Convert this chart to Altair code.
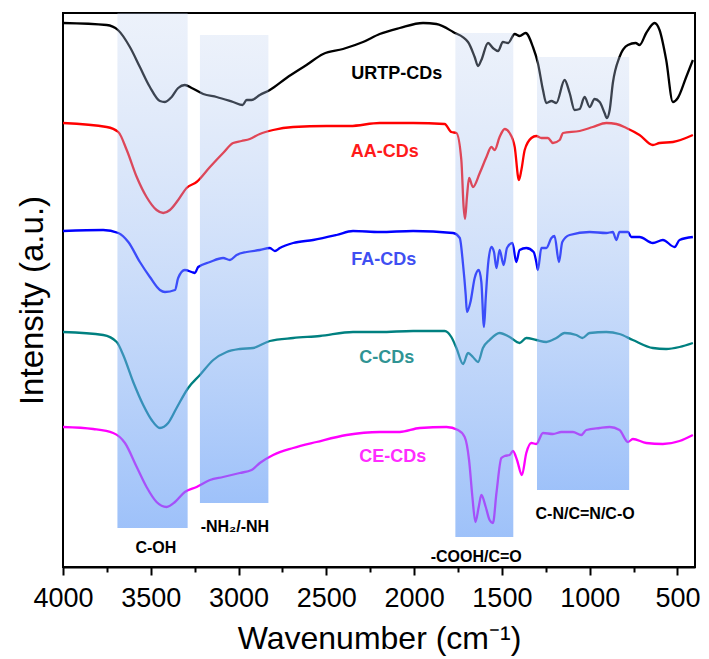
import altair as alt
import pandas as pd

FONT = "Liberation Sans"

# ---------------- data (wavenumber in cm-1, intensity in arbitrary units) ----------------
SERIES = ["URTP-CDs", "AA-CDs", "FA-CDs", "C-CDs", "CE-CDs"]
LINE_COLORS = ["#000000", "#ff0000", "#0000ff", "#008080", "#ff00ff"]
LABEL_COLORS = ["#000000", "#ff1a1a", "#3f4ff2", "#2f9494", "#ff2cff"]

urtp_wn = [4000, 3751, 3687, 3619, 3562, 3505, 3448, 3419, 3381, 3344, 3306, 3267, 3201, 3125, 3031,
           2977, 2954, 2926, 2879, 2822, 2727, 2613, 2518, 2405, 2291, 2196, 2082, 1949, 1873, 1778,
           1693, 1655, 1636, 1617, 1579, 1551, 1522, 1494, 1465, 1427, 1399, 1365, 1323, 1295, 1266,
           1247, 1218, 1190, 1143, 1114, 1086, 1057, 1029, 1000, 972, 943, 915, 902, 886, 868, 830,
           782, 738, 716, 678, 630, 602, 564, 526, 498, 450, 412]
urtp_v = [544, 542, 537, 520, 500, 480, 466, 465, 470, 479, 482, 479, 473, 470, 465, 462, 467, 467,
          472, 477, 489, 502, 513, 518, 525, 533, 539, 544, 543, 535, 525, 510, 501, 507, 524, 519,
          516, 525, 524, 533, 531, 534, 520, 504, 477, 464, 466, 464, 487, 474, 457, 458, 470, 460,
          468, 465, 454, 449, 457, 484, 510, 522, 524, 522, 534, 544, 537, 507, 465, 469, 490, 507]

aa_wn = [4000, 3751, 3685, 3637, 3580, 3524, 3467, 3429, 3391, 3344, 3296, 3239, 3163, 3088, 3031,
         2983, 2936, 2879, 2803, 2689, 2499, 2366, 2196, 2006, 1826, 1788, 1759, 1731, 1718, 1710,
         1699, 1687, 1665, 1626, 1588, 1560, 1541, 1513, 1484, 1456, 1427, 1403, 1389, 1370, 1332,
         1304, 1275, 1238, 1209, 1171, 1152, 1057, 982, 905, 848, 791, 716, 640, 602, 526, 412]
aa_v = [444, 440, 435, 417, 390, 370, 357, 354, 357, 367, 379, 385, 400, 414, 424, 426, 428, 433,
        437, 440, 441, 441, 444, 444, 443, 435, 434, 407, 360, 348, 370, 389, 380, 394, 410, 420,
        417, 430, 438, 434, 420, 387, 397, 417, 429, 431, 429, 429, 424, 427, 434, 436, 440, 444,
        443, 439, 432, 422, 424, 425, 432]

fa_wn = [4000, 3771, 3685, 3628, 3562, 3505, 3448, 3419, 3362, 3344, 3306, 3267, 3249, 3230, 3163,
         3088, 3049, 3011, 2954, 2879, 2822, 2793, 2765, 2689, 2575, 2442, 2348, 2196, 2006, 1778,
         1740, 1721, 1706, 1699, 1679, 1655, 1632, 1617, 1602, 1592, 1579, 1560, 1545, 1531, 1513,
         1490, 1471, 1440, 1418, 1399, 1361, 1319, 1304, 1295, 1275, 1247, 1218, 1200, 1175, 1156,
         1114, 1000, 905, 868, 848, 830, 782, 763, 716, 640, 583, 516, 488, 412]
fa_v = [336, 337, 334, 325, 305, 290, 277, 275, 277, 289, 297, 295, 294, 300, 305, 309, 307, 312,
        315, 317, 319, 316, 319, 324, 327, 332, 336, 335, 336, 334, 329, 302, 272, 255, 265, 289,
        297, 285, 240, 269, 302, 320, 315, 299, 317, 302, 319, 324, 305, 317, 319, 315, 305, 297,
        319, 319, 329, 331, 305, 325, 332, 335, 334, 335, 327, 335, 335, 330, 330, 324, 327, 320,
        327, 330]

c_wn = [4000, 3771, 3694, 3657, 3600, 3543, 3495, 3448, 3401, 3353, 3287, 3220, 3144, 3068, 2993,
        2917, 2822, 2689, 2537, 2348, 2196, 2006, 1826, 1788, 1759, 1721, 1693, 1665, 1636, 1608,
        1570, 1513, 1456, 1399, 1361, 1304, 1247, 1190, 1143, 1076, 1042, 1000, 905, 830, 754, 640,
        564, 488, 412]
c_v = [235, 232, 225, 212, 185, 162, 147, 139, 144, 159, 179, 192, 207, 215, 218, 219, 226, 229,
       231, 235, 235, 236, 236, 230, 219, 203, 214, 210, 205, 219, 227, 234, 230, 224, 229, 227,
       225, 229, 234, 232, 229, 234, 235, 233, 227, 219, 218, 220, 224]

ce_wn = [4000, 3828, 3714, 3647, 3580, 3524, 3467, 3410, 3362, 3306, 3239, 3163, 3088, 2993, 2926,
         2879, 2803, 2689, 2556, 2385, 2196, 2082, 1968, 1816, 1750, 1712, 1687, 1668, 1651, 1632,
         1617, 1592, 1570, 1551, 1531, 1503, 1484, 1456, 1437, 1414, 1386, 1361, 1332, 1304, 1266,
         1209, 1161, 1095, 1048, 1019, 943, 886, 830, 782, 754, 678, 583, 488, 412]
ce_v = [140, 138, 134, 124, 100, 80, 65, 60, 65, 75, 80, 87, 90, 94, 97, 104, 112, 119, 125, 132,
        135, 135, 139, 140, 137, 130, 107, 70, 45, 60, 72, 60, 47, 44, 74, 109, 111, 112, 116, 107,
        92, 114, 124, 123, 134, 133, 135, 135, 132, 137, 139, 140, 137, 125, 128, 124, 123, 126, 132]

label_wn = [2099, 2167, 2173, 2156, 2122]
label_v = [493, 415, 307, 209, 110]

band_names = ["C-OH", "-NH\u2082/-NH", "-COOH/C=O", "C-N/C=N/C-O"]
band_start = [3690, 3220, 1765, 1300]
band_end = [3290, 2830, 1435, 775]
band_low = [39, 64, 30, 77]
band_high = [554, 532, 534, 510]
band_label_wn = [3471, 3021, 1646, 1026]
band_label_v = [19, 40, 10, 53]

major_ticks = [4000, 3500, 3000, 2500, 2000, 1500, 1000, 500]
minor_ticks = [3750, 3250, 2750, 2250, 1750, 1250, 750]

# ---------------- tables ----------------
frames = []
for name, wn, v in zip(SERIES, [urtp_wn, aa_wn, fa_wn, c_wn, ce_wn],
                       [urtp_v, aa_v, fa_v, c_v, ce_v]):
    d = pd.DataFrame({"wn": wn, "v": v})
    d["series"] = name
    frames.append(d)
spectra = pd.concat(frames, ignore_index=True)

labels = pd.DataFrame({"series": SERIES, "wn": label_wn, "v": label_v})
bands = pd.DataFrame({"band": band_names, "x0": band_start, "x1": band_end,
                      "y0": band_low, "y1": band_high})
band_labels = pd.DataFrame({"band": band_names, "wn": band_label_wn, "v": band_label_v})

# ---------------- scales / axes ----------------
xscale = alt.Scale(domain=[4000, 400], nice=False, zero=False)
yscale = alt.Scale(domain=[0, 554], nice=False, zero=False)

yaxis = alt.Axis(title="Intensity  (a.u.)", labels=False, ticks=False, domain=False, grid=False,
                 titleFontSize=33, titleFont=FONT, titleFontWeight="normal", titlePadding=14,
                 titleColor="black", titleY=287)
xaxis_major = alt.Axis(title="Wavenumber (cm\u207b\u00b9)", values=major_ticks, grid=False,
                       orient="bottom", tickSize=8, tickWidth=2, tickColor="black",
                       domain=True, domainColor="black", domainWidth=2,
                       labelFontSize=27, labelFont=FONT, labelColor="black", labelPadding=10,
                       labelFlush=False, labelOverlap=False,
                       titleFontSize=32, titleFont=FONT, titleFontWeight="normal",
                       titleColor="black", titlePadding=12, format="d")
xaxis_minor = alt.Axis(title=None, values=minor_ticks, grid=False, orient="bottom", labels=False,
                       tickSize=5, tickWidth=2, tickColor="black", domain=False)

lines = alt.Chart(spectra).mark_line(strokeWidth=2.3, interpolate="monotone").encode(
    x=alt.X("wn:Q", scale=xscale, axis=xaxis_major),
    y=alt.Y("v:Q", scale=yscale, axis=yaxis),
    color=alt.Color("series:N", scale=alt.Scale(domain=SERIES, range=LINE_COLORS), legend=None),
    detail="series:N",
)

gradient = alt.Gradient(
    gradient="linear",
    stops=[alt.GradientStop(color="rgba(193,210,240,0.30)", offset=0),
           alt.GradientStop(color="rgba(82,145,245,0.56)", offset=1)],
    x1=0, x2=0, y1=0, y2=1,
)

rects = alt.Chart(bands).mark_rect(fill=gradient, strokeWidth=0).encode(
    x=alt.X("x0:Q", scale=xscale, axis=xaxis_minor),
    x2="x1:Q",
    y=alt.Y("y1:Q", scale=yscale, axis=yaxis),
    y2="y0:Q",
)

series_text = alt.Chart(labels).mark_text(
    font=FONT, fontSize=18, fontWeight="bold", align="center", baseline="middle"
).encode(
    x=alt.X("wn:Q", scale=xscale, axis=None),
    y=alt.Y("v:Q", scale=yscale, axis=yaxis),
    text="series:N",
    color=alt.Color("series:N", scale=alt.Scale(domain=SERIES, range=LABEL_COLORS), legend=None),
)

band_text = alt.Chart(band_labels).mark_text(
    font=FONT, fontSize=16, fontWeight="bold", align="center", baseline="middle", color="black"
).encode(
    x=alt.X("wn:Q", scale=xscale, axis=None),
    y=alt.Y("v:Q", scale=yscale, axis=yaxis),
    text="band:N",
)

chart = alt.layer(lines, rects, series_text, band_text).resolve_axis(
    x="independent"
).resolve_scale(
    color="independent"
).properties(
    width=632, height=554,
    padding={"left": 63, "top": 13, "right": 14, "bottom": 92},
    autosize=alt.AutoSizeParams(type="none"),
    background="white",
).configure_view(
    stroke="black", strokeWidth=2
)

chart.save("out.html", embed_options={"renderer": "svg", "actions": False})
